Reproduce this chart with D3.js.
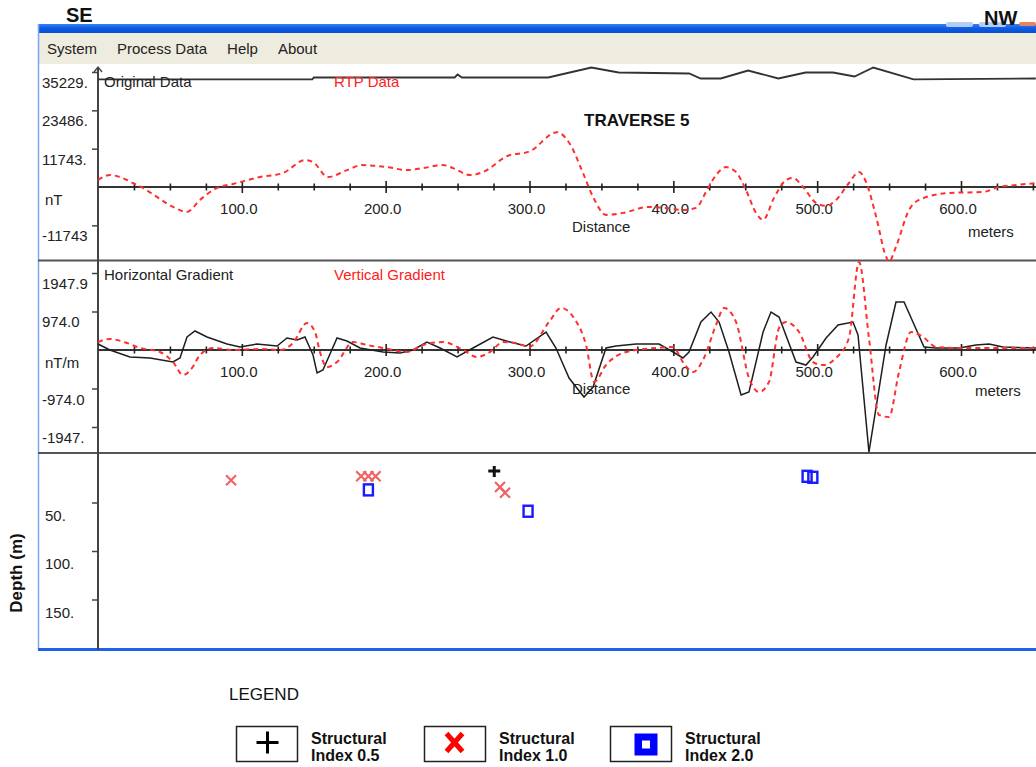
<!DOCTYPE html>
<html>
<head>
<meta charset="utf-8">
<script src="https://cdn.jsdelivr.net/npm/d3@7"></script>
<style>
  html, body { margin: 0; padding: 0; background: #fff; }
  svg { display: block; }
  text { font-family: "Liberation Sans", Arial, sans-serif; }
</style>
</head>
<body>
<script>
// ---- Traverse 5 : magnetic profile, gradients and Euler depth solutions ----

const menuItems = ["System", "Process Data", "Help", "About"];

const distanceTicks = [100, 200, 300, 400, 500, 600];           // metres
const fieldTicks = [35229, 23486, 11743, -11743];              // nT
const fieldTickLabels = ["35229.", "23486.", "11743.", "-11743"];
const gradientTicks = [1947.9, 974.0, -974.0, -1947.9];        // nT/m
const gradientTickLabels = ["1947.9", "974.0", "-974.0", "-1947."];
const depthTicks = [50, 100, 150];                             // m
const depthTickLabels = ["50.", "100.", "150."];

// [distance (m), total field (nT)]
const originalData = [
  [0, 32940], [149, 32940], [150, 33550], [248, 33550], [250, 34465], [253, 33550],
  [313, 33550], [343, 36600], [362, 35075], [411, 34770], [419, 33245], [433, 33245],
  [452, 35685], [473, 33245], [492, 35075], [511, 35075], [526, 33855], [539, 36600],
  [567, 32940], [652, 33245]
];

// [distance (m), reduced-to-pole field (nT)]
const rtpData = [
  [0, 2135], [8.3, 3660], [15.3, 3050], [24.3, 1220], [31.3, -305], [41, -3050],
  [52.1, -6100], [61.9, -7625], [70.9, -3965], [82.7, -305], [93.8, 915], [112.6, 3050],
  [128.6, 4270], [143.9, 8235], [149.5, 7625], [159.9, 3050], [173.1, 5185], [183.5, 6710],
  [200.9, 6100], [214.8, 5185], [226, 5795], [239.9, 6710], [246.8, 5795], [258.6, 3660],
  [267.7, 4575], [284.4, 9455], [300.4, 10980], [319.1, 16775], [328.2, 13115], [337.2, 4270],
  [344.2, -3050], [353.2, -8540], [365, -7930], [383.1, -6100], [394.4, -6405], [406.7, -7015],
  [415.8, -6405], [422.7, -1525], [429.7, 3660], [436.6, 6100], [443.6, 4575], [450.5, -915],
  [457.5, -7930], [462.4, -10065], [470, -3355], [478.4, 2135], [483.2, 2745], [490.2, 0],
  [499.2, -4880], [506.2, -5795], [513.1, -3965], [522.1, 1220], [529.1, 4575], [534, 1525],
  [541, -9150], [547.9, -21350], [549.9, -22875], [554.8, -18300], [563.9, -7015], [570.8, -3965],
  [591.7, -1830], [615.3, -1525], [626.4, 0], [638.3, 610], [652.2, 1220]
];

// [distance (m), horizontal gradient (nT/m)]
const horizontalGradient = [
  [0, 152], [8.3, 0], [22.2, -177], [36.2, -202], [52.1, -304], [57, -202], [61.9, 329],
  [67.4, 481], [75.8, 329], [89.7, 152], [98.7, 76], [110.5, 152], [124.5, 101], [131.4, 304],
  [138.4, 253], [143.9, 329], [149.5, -127], [152.3, -582], [156.4, -506], [166.2, 304],
  [173.1, 228], [182.2, 51], [198.2, -51], [210, -76], [219, 0], [228.7, 202], [237.8, 51],
  [249.6, -177], [260.7, 51], [274.6, 329], [286.4, 202], [297.6, 101], [311.5, 455],
  [318.4, 51], [327.5, -708], [337.9, -1189], [344.2, -936], [353.2, 51], [360.1, 101],
  [374.1, 152], [390.1, 152], [399.8, -51], [406.7, -202], [410.9, -51], [419.2, 708],
  [426.2, 961], [431.8, 708], [438.7, -51], [447.1, -1139], [452.6, -1063], [462.4, 455],
  [467.9, 961], [473.5, 835], [485.3, -304], [492.2, -380], [497.1, -177], [506.2, 304],
  [514.5, 633], [524.9, 708], [528.4, 380], [536, -2581], [547.9, 127], [554.8, 1214],
  [560.4, 1214], [574.3, 76], [582.6, 51], [598.6, 51], [610.4, 127], [619.5, 152],
  [629.2, 76], [652.2, 51]
];

// [distance (m), vertical gradient (nT/m)]
const verticalGradient = [
  [0, 202], [8.3, 278], [20.2, 177], [29.2, 51], [43.1, -51], [52.1, -304], [59.1, -633],
  [65.4, -455], [70.9, -127], [80, 51], [93.9, 0], [112.6, 25], [126.5, 0], [135.6, 177],
  [145.3, 683], [150.9, 455], [154.3, -51], [159.2, -430], [166.2, -304], [177.3, 202],
  [187, 127], [198.2, 51], [214.8, -51], [226, 127], [239.9, 202], [253.8, 0], [263.5, -177],
  [272.5, -51], [281.6, 202], [290.6, 177], [299.7, 76], [313.6, 708], [321.9, 1063],
  [330.9, 810], [339.3, 127], [344.9, -810], [353.2, -380], [367.1, -51], [388, 51],
  [399.8, 76], [406.7, -304], [413.7, -557], [421.3, -202], [429.7, 633], [435.3, 1063],
  [443.6, 708], [452.6, -708], [459.6, -1063], [466.5, -810], [473.5, 557], [478.3, 708],
  [487.4, 455], [497.1, -304], [504.1, -380], [513.1, -202], [522.1, 304], [529.1, 2226],
  [536, 304], [543, -1645], [549.9, -1695], [556.9, -557], [565.3, 455], [573.6, 329],
  [582.6, 76], [598.6, 51], [652.2, 51]
];

// Euler deconvolution solutions: [distance (m), depth (m)]
const structuralIndex05 = [[275.5, 17.5]];
const structuralIndex10 = [[92.5, 27], [183, 23], [188, 23], [193, 23], [279.5, 34], [283, 40]];
const structuralIndex20 = [[188, 37], [299, 59], [493, 23], [497, 24]];

const legendItems = [
  { symbol: "plus", lines: ["Structural", "Index 0.5"] },
  { symbol: "cross", lines: ["Structural", "Index 1.0"] },
  { symbol: "square", lines: ["Structural", "Index 2.0"] }
];

// ---------------------------------------------------------------------------
const W = 1036, H = 767;
const svg = d3.select("body").append("svg").attr("width", W).attr("height", H);
svg.append("rect").attr("width", W).attr("height", H).attr("fill", "#fff");

const winLeft = 38;
const axisX = 98;

// Shared distance scale and per-panel value scales
const x = d3.scaleLinear().domain([0, 600]).range([axisX, 961]);
const xMax = x.invert(W);
const yField = d3.scaleLinear().domain([0, 35229]).range([187, 72]);
const yGrad = d3.scaleLinear().domain([0, 1947.9]).range([350, 273]);
const yDepth = d3.scaleLinear().domain([0, 200]).range([454, 648]);

// ---- window chrome ----
const defs = svg.append("defs");
const tb = defs.append("linearGradient").attr("id", "titlebar").attr("x1", 0).attr("y1", 0).attr("x2", 0).attr("y2", 1);
tb.append("stop").attr("offset", "0%").attr("stop-color", "#3a80f2");
tb.append("stop").attr("offset", "45%").attr("stop-color", "#0b5de6");
tb.append("stop").attr("offset", "100%").attr("stop-color", "#0a4fd0");

svg.append("rect").attr("x", winLeft).attr("y", 24).attr("width", W - winLeft).attr("height", 9)
  .attr("fill", "url(#titlebar)");
// caption buttons peeking out at the right end of the title bar
svg.append("rect").attr("x", 946).attr("y", 22).attr("width", 27).attr("height", 5).attr("rx", 2).attr("fill", "#b4cdf5");
svg.append("rect").attr("x", 979).attr("y", 22).attr("width", 27).attr("height", 5).attr("rx", 2).attr("fill", "#b4cdf5");
svg.append("rect").attr("x", 1019).attr("y", 22).attr("width", 17).attr("height", 4).attr("rx", 2).attr("fill", "#e9825e");

svg.append("rect").attr("x", winLeft).attr("y", 33).attr("width", W - winLeft).attr("height", 31)
  .attr("fill", "#eeecdf");

const menu = svg.append("g");
let mx = 47;
menuItems.forEach(m => {
  const t = menu.append("text").attr("x", mx).attr("y", 53.5).attr("font-size", 15)
    .attr("fill", "#222").text(m);
  mx += t.node().getComputedTextLength() + 20;
});

// window left border and bottom border
svg.append("line").attr("x1", winLeft + 0.5).attr("x2", winLeft + 0.5).attr("y1", 24).attr("y2", 650)
  .attr("stroke", "#7ea6ee").attr("stroke-width", 1.5);
svg.append("line").attr("x1", winLeft).attr("x2", W).attr("y1", 649.5).attr("y2", 649.5)
  .attr("stroke", "#1c62ea").attr("stroke-width", 3);

// panel separators
[260.5, 453].forEach(yy => {
  svg.append("line").attr("x1", winLeft).attr("x2", W).attr("y1", yy).attr("y2", yy)
    .attr("stroke", "#555").attr("stroke-width", 2);
});

// ---- vertical axis ----
svg.append("line").attr("x1", axisX).attr("x2", axisX).attr("y1", 67).attr("y2", 650)
  .attr("stroke", "#444").attr("stroke-width", 2);
svg.append("path").attr("d", `M${axisX - 4},72 L${axisX},67 L${axisX + 4},72`)
  .attr("fill", "none").attr("stroke", "#444").attr("stroke-width", 1.4);

function yTicks(scale, values, labels, lx, dy) {
  const g = svg.append("g").attr("transform", `translate(${axisX},0)`)
    .call(d3.axisLeft(scale).tickValues(values).tickSize(6).tickFormat(""));
  g.select(".domain").remove();
  g.selectAll(".tick line").attr("stroke", "#444").attr("stroke-width", 1.5);
  svg.append("g").selectAll("text").data(values).join("text")
    .attr("x", lx).attr("y", d => scale(d) + dy)
    .attr("font-size", 15).attr("fill", "#222")
    .text((d, i) => labels[i]);
}
yTicks(yField, fieldTicks, fieldTickLabels, 42, 16);
yTicks(yGrad, gradientTicks, gradientTickLabels, 42, 16);
yTicks(yDepth, depthTicks, depthTickLabels, 45, 18);

svg.append("text").attr("x", 45).attr("y", 204.5).attr("font-size", 15).attr("fill", "#222").text("nT");
svg.append("text").attr("x", 45).attr("y", 367.5).attr("font-size", 15).attr("fill", "#222").text("nT/m");

// ---- distance axes ----
function distanceAxis(y0, distLabelY, metersX, metersY) {
  svg.append("line").attr("x1", axisX).attr("x2", W).attr("y1", y0).attr("y2", y0)
    .attr("stroke", "#333").attr("stroke-width", 2);
  const minor = d3.range(25, xMax, 25).filter(d => d % 100 !== 0);
  const major = d3.range(100, xMax, 100);
  const addTicks = (vals, size) => {
    [d3.axisBottom, d3.axisTop].forEach(ax => {
      const g = svg.append("g").attr("transform", `translate(0,${y0})`)
        .call(ax(x).tickValues(vals).tickSize(size).tickFormat(""));
      g.select(".domain").remove();
      g.selectAll(".tick line").attr("stroke", "#222").attr("stroke-width", 1.6);
    });
  };
  addTicks(minor, 3.5);
  addTicks(major, 6);
  svg.append("g").selectAll("text").data(distanceTicks).join("text")
    .attr("x", d => x(d) - 3).attr("y", y0 + 27).attr("text-anchor", "middle")
    .attr("font-size", 15).attr("fill", "#222")
    .text(d3.format(".1f"));
  svg.append("text").attr("x", 572).attr("y", distLabelY).attr("font-size", 15).attr("fill", "#222").text("Distance");
  svg.append("text").attr("x", metersX).attr("y", metersY).attr("font-size", 15).attr("fill", "#222").text("meters");
}
distanceAxis(yField(0), 231.5, 968, 237);
distanceAxis(yGrad(0), 393.5, 975, 396);

// ---- series ----
const blackLine = (scale) => d3.line().x(d => x(d[0])).y(d => scale(d[1]));
const redLine = (scale) => d3.line().x(d => x(d[0])).y(d => scale(d[1])).curve(d3.curveMonotoneX);

svg.append("path").datum(originalData).attr("d", blackLine(yField))
  .attr("fill", "none").attr("stroke", "#333").attr("stroke-width", 1.8);
svg.append("path").datum(rtpData).attr("d", redLine(yField))
  .attr("fill", "none").attr("stroke", "#ff2f2f").attr("stroke-width", 2).attr("stroke-dasharray", "5,4");

svg.append("path").datum(horizontalGradient).attr("d", blackLine(yGrad))
  .attr("fill", "none").attr("stroke", "#1e1e1e").attr("stroke-width", 1.5);
svg.append("path").datum(verticalGradient).attr("d", redLine(yGrad))
  .attr("fill", "none").attr("stroke", "#ff2f2f").attr("stroke-width", 2).attr("stroke-dasharray", "5,4");

// series captions
svg.append("text").attr("x", 104).attr("y", 87).attr("font-size", 15).attr("fill", "#222").text("Original Data");
svg.append("text").attr("x", 334).attr("y", 87).attr("font-size", 15).attr("fill", "#ff2020").text("RTP Data");
svg.append("text").attr("x", 104).attr("y", 280).attr("font-size", 15).attr("fill", "#222").text("Horizontal Gradient");
svg.append("text").attr("x", 334).attr("y", 280).attr("font-size", 15).attr("fill", "#ff2020").text("Vertical Gradient");

svg.append("text").attr("x", 584).attr("y", 126).attr("font-size", 17).attr("font-weight", "bold")
  .attr("fill", "#111").text("TRAVERSE 5");

// ---- depth solutions ----
const sol = svg.append("g");
sol.selectAll("path.si05").data(structuralIndex05).join("path").attr("class", "si05")
  .attr("transform", d => `translate(${x(d[0])},${yDepth(d[1])})`)
  .attr("d", "M-6,0 L6,0 M0,-5 L0,6")
  .attr("stroke", "#111").attr("stroke-width", 3);
sol.selectAll("path.si10").data(structuralIndex10).join("path").attr("class", "si10")
  .attr("transform", d => `translate(${x(d[0])},${yDepth(d[1])})`)
  .attr("d", "M-5,-5 L5,5 M-5,5 L5,-5")
  .attr("stroke", "#f26262").attr("stroke-width", 2.2);
sol.selectAll("rect.si20").data(structuralIndex20).join("rect").attr("class", "si20")
  .attr("x", d => x(d[0]) - 4.5).attr("y", d => yDepth(d[1]) - 5.5)
  .attr("width", 9).attr("height", 11)
  .attr("fill", "none").attr("stroke", "#1a1aff").attr("stroke-width", 2.4);

svg.append("text").attr("transform", "translate(22,573) rotate(-90)")
  .attr("text-anchor", "middle").attr("font-size", 17).attr("font-weight", "bold")
  .attr("fill", "#111").text("Depth (m)");

// ---- orientation labels ----
svg.append("text").attr("x", 66).attr("y", 22).attr("font-size", 20).attr("font-weight", "bold").attr("fill", "#111").text("SE");
svg.append("text").attr("x", 984).attr("y", 25).attr("font-size", 20).attr("font-weight", "bold").attr("fill", "#111").text("NW");

// ---- legend ----
svg.append("text").attr("x", 229).attr("y", 700).attr("font-size", 17).attr("fill", "#111").text("LEGEND");
const legendBoxes = [236.5, 424.5, 610.5];
legendItems.forEach((item, i) => {
  const bx = legendBoxes[i];
  const g = svg.append("g").attr("transform", `translate(${bx},726.5)`);
  g.append("rect").attr("width", 61).attr("height", 35).attr("fill", "#fff")
    .attr("stroke", "#222").attr("stroke-width", 1.5);
  if (item.symbol === "plus") {
    g.append("path").attr("d", "M20,16 L42,16 M31,5 L31,27").attr("stroke", "#000").attr("stroke-width", 3);
  } else if (item.symbol === "cross") {
    g.append("path").attr("d", "M22,7 L38,25 M22,25 L38,7").attr("stroke", "#ff0000").attr("stroke-width", 5);
  } else {
    g.append("rect").attr("x", 24).attr("y", 7).attr("width", 23).attr("height", 22).attr("fill", "#0000ff");
    g.append("rect").attr("x", 31.5).attr("y", 14).attr("width", 8).attr("height", 8).attr("fill", "#fff");
  }
  const t = svg.append("text").attr("x", bx + 74.5).attr("y", 744).attr("font-size", 16)
    .attr("font-weight", "bold").attr("fill", "#111");
  item.lines.forEach((ln, j) => {
    t.append("tspan").attr("x", bx + 74.5).attr("dy", j === 0 ? 0 : 17).text(ln);
  });
});
</script>
</body>
</html>
